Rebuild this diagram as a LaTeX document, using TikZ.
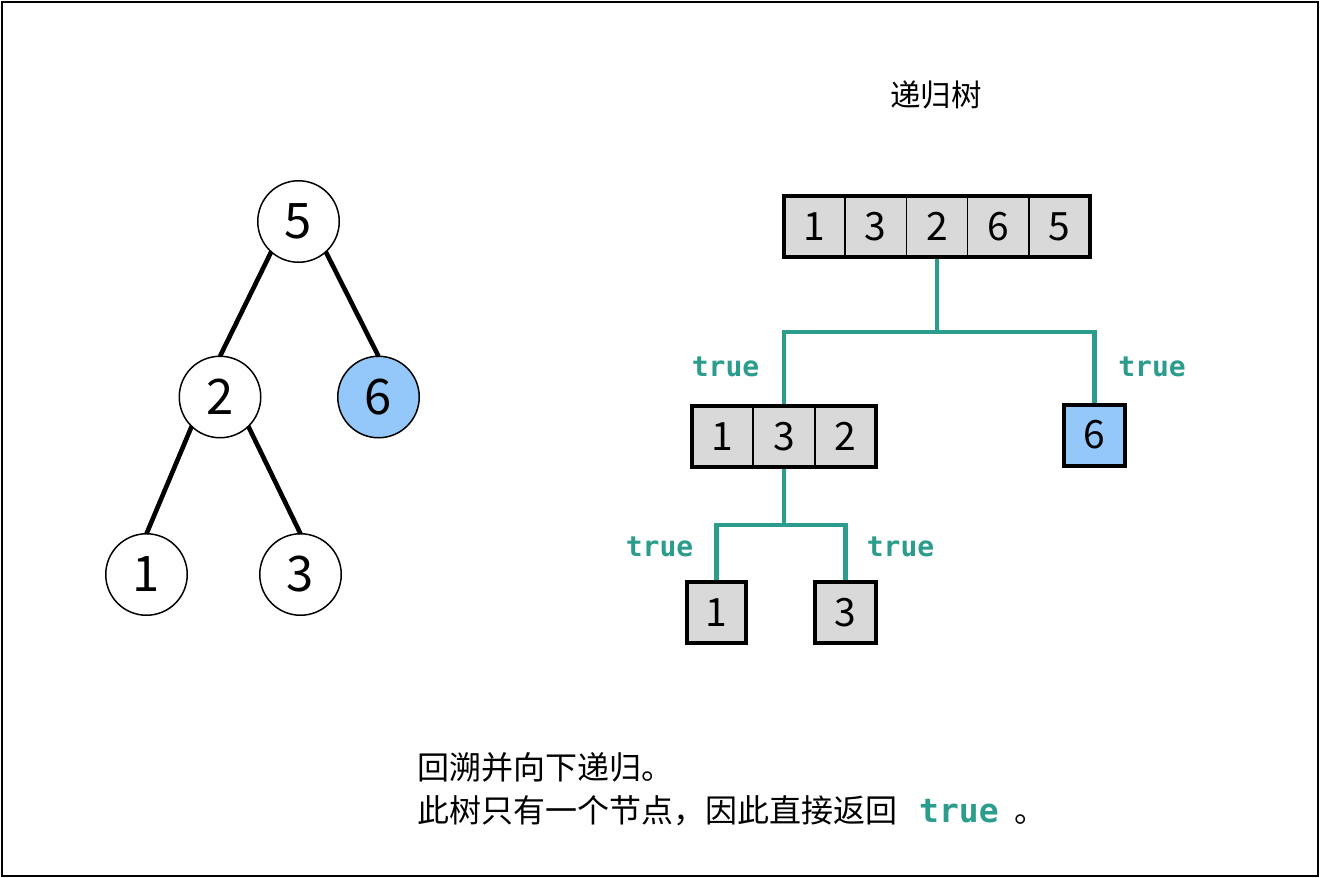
\documentclass[tikz,border=0pt]{standalone}
\usepackage{fontspec}
\setmainfont{Noto Sans CJK SC}
\newfontfamily\codefont{DejaVu Sans Mono}
\usetikzlibrary{backgrounds}
\definecolor{tealc}{RGB}{44,157,141}
\definecolor{cellgray}{RGB}{217,217,217}
\definecolor{hiblue}{RGB}{148,199,250}
\newcommand\digbig{\fontsize{49}{55}\selectfont}
\newcommand\digmid{\fontsize{39}{45}\selectfont}
\newcommand\cjktext{\fontsize{32}{36}\selectfont}
\tikzset{
  tnode/.style={circle,draw=black,line width=1.5pt,fill=white,minimum size=81.5pt,inner sep=0pt,outer sep=0pt,font=\digbig},
  hinode/.style={tnode,fill=hiblue},
  tedge/.style={line width=4.6pt,black},
  cell/.style={rectangle,draw=black,line width=1.7pt,fill=cellgray,minimum width=61.2pt,minimum height=61pt,inner sep=0pt,outer sep=0pt,font=\digmid},
  hicell/.style={cell,fill=hiblue},
  boxborder/.style={draw=black,line width=4pt},
  conn/.style={draw=tealc,line width=4.3pt,line join=miter},
  truelabel/.style={text=tealc,font=\codefont\bfseries\fontsize{28}{32}\selectfont,inner sep=0pt},
}
\begin{document}
\begin{tikzpicture}[x=1pt,y=-1pt]
\useasboundingbox (0,0) rectangle (1320,878);
\draw[line width=2pt] (2,2) rectangle (1318,876);

% left tree
\node[tnode] (n5) at (298.5,221.5) {5};
\node[tnode] (n2) at (220,397) {2};
\node[hinode] (n6) at (378.5,397) {6};
\node[tnode] (n1) at (146.5,574.5) {1};
\node[tnode] (n3) at (300.5,574.5) {3};
\draw[tedge] (n5.-132) -- (n2.north);
\draw[tedge] (n5.-48) -- (n6.north);
\draw[tedge] (n2.-134) -- (n1.north);
\draw[tedge] (n2.-46) -- (n3.north);

% title
\node[font=\fontsize{30.5}{34}\selectfont,anchor=base,inner sep=0pt] (title) at (936,106) {递归树};

% top array
\node[cell] (t1) at (814.6,226.5) {1};
\node[cell] (t2) at (875.8,226.5) {3};
\node[cell] (t3) at (937,226.5) {2};
\node[cell] (t4) at (998.2,226.5) {6};
\node[cell] (t5) at (1059.4,226.5) {5};
\draw[boxborder] (t1.north west) rectangle (t5.south east);

% middle array
\node[cell] (m1) at (722.7,436.5) {1};
\node[cell] (m2) at (784,436.5) {3};
\node[cell] (m3) at (845.3,436.5) {2};
\draw[boxborder] (m1.north west) rectangle (m3.south east);

\node[hicell] (six) at (1094.5,435) {6};
\draw[boxborder] (six.north west) rectangle (six.south east);

% bottom boxes
\node[cell,minimum width=59pt] (b1) at (716.5,612.5) {1};
\draw[boxborder] (b1.north west) rectangle (b1.south east);
\node[cell] (b3) at (845.5,612.5) {3};
\draw[boxborder] (b3.north west) rectangle (b3.south east);

% connectors
\coordinate (j1) at (937,332);
\coordinate (j2) at (784,525);
\begin{pgfonlayer}{background}
\draw[conn] (t3.south) -- (j1);
\draw[conn] (m2.north) |- (j1) -| (six.north);
\draw[conn] (m2.south) -- (j2);
\draw[conn] (b1.north) |- (j2) -| (b3.north);
\end{pgfonlayer}

% labels
\node[truelabel] (l1) at (725.5,367) {true};
\node[truelabel] (l2) at (1152,367) {true};
\node[truelabel] (l3) at (659.5,547) {true};
\node[truelabel] (l4) at (900.5,547) {true};

% bottom text
\node[font=\cjktext,anchor=base west,inner sep=0pt] (line1) at (417,779) {回溯并向下递归。};
\node[font=\cjktext,anchor=base west,inner sep=0pt] (line2) at (417,822) {此树只有一个节点，因此直接返回\hspace{22pt}{\codefont\bfseries\fontsize{33}{36}\selectfont\color{tealc}true}\hspace{16pt}。};
\end{tikzpicture}
\end{document}
